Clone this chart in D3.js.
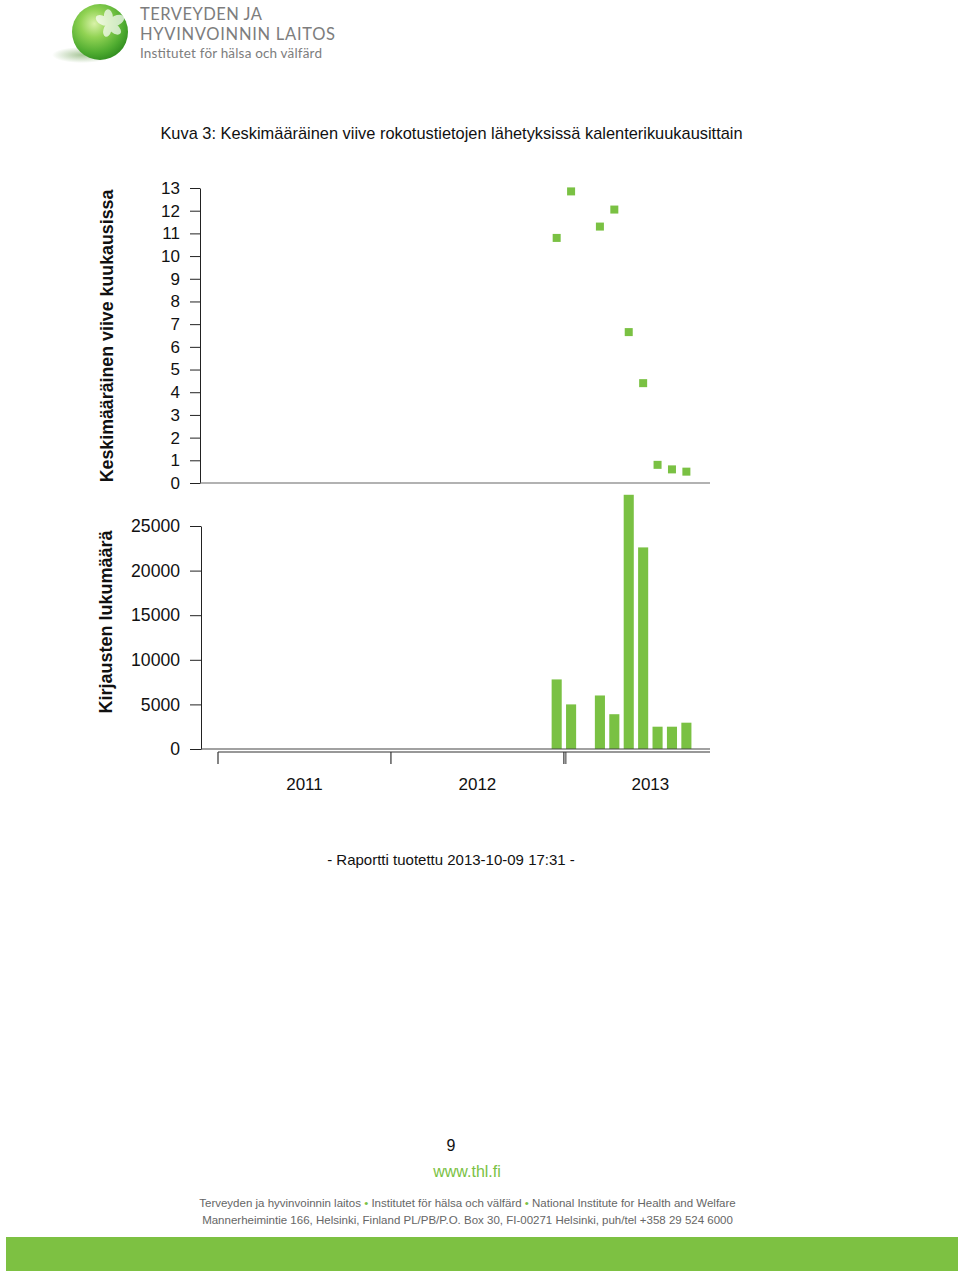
<!DOCTYPE html>
<html><head><meta charset="utf-8">
<script src="https://cdn.jsdelivr.net/npm/d3@7"></script>
<style>
body{margin:0;background:#fff}
svg{display:block}
text{font-family:"Liberation Sans",Arial,Helvetica,sans-serif}
</style>
</head><body>
<svg id="c" width="960" height="1272"></svg>
<script>
// ---- data ----
const dataMonths = ["2012-12","2013-01","2013-03","2013-04","2013-05","2013-06","2013-07","2013-08","2013-09"];
const delayValues = [10.8, 12.85, 11.3, 12.05, 6.65, 4.4, 0.8, 0.6, 0.5];
const countValues = [7800, 5000, 6000, 3900, 28500, 22600, 2500, 2500, 2950];
const delayTicks = [0,1,2,3,4,5,6,7,8,9,10,11,12,13];
const countTicks = [0,5000,10000,15000,20000,25000];
const yearLabels = ["2011","2012","2013"];
const firstMonth = "2011-01", lastMonth = "2013-10";

const green = "#7ac143";
const svg = d3.select("#c");
const fmt = d3.timeFormat("%Y-%m"), parse = d3.timeParse("%Y-%m");
const monthDomain = d3.timeMonth.range(parse(firstMonth), d3.timeMonth.offset(parse(lastMonth),1)).map(fmt);

const x = d3.scaleBand().domain(monthDomain).range([218, 708]).paddingInner(0.3).paddingOuter(0.15);
const yTop = d3.scaleLinear().domain([0,13]).range([483,188]);
const yBot = d3.scaleLinear().domain([0,25000]).range([749,526]);

// ---- logo ----
const defs = svg.append("defs");
const rg = defs.append("radialGradient").attr("id","sph").attr("cx","40%").attr("cy","35%").attr("r","70%");
rg.append("stop").attr("offset","0%").attr("stop-color","#d9f2a8");
rg.append("stop").attr("offset","35%").attr("stop-color","#92d354");
rg.append("stop").attr("offset","75%").attr("stop-color","#4fac30");
rg.append("stop").attr("offset","100%").attr("stop-color","#2e8a1e");
const sg = defs.append("radialGradient").attr("id","shd");
sg.append("stop").attr("offset","0%").attr("stop-color","#a9c79a");
sg.append("stop").attr("offset","100%").attr("stop-color","#ffffff");
svg.append("ellipse").attr("cx",82).attr("cy",55).attr("rx",30).attr("ry",8).attr("fill","url(#shd)");
svg.append("circle").attr("cx",100).attr("cy",32).attr("r",28).attr("fill","url(#sph)");
const leaf = svg.append("g").attr("fill","#ffffff").attr("opacity",0.7);
[[-150,9],[-95,9],[-25,10],[40,9],[105,8]].forEach(([a,l])=>{
  const cx0 = 109, cy0 = 24;
  const r = a*Math.PI/180;
  const cx = cx0 + Math.cos(r)*l*0.8, cy = cy0 + Math.sin(r)*l*0.8;
  leaf.append("ellipse").attr("cx",cx).attr("cy",cy).attr("rx",l*0.85).attr("ry",l*0.5)
    .attr("transform",`rotate(${a},${cx},${cy})`);
});
const logoFont = "Lato,'Open Sans',sans-serif";
const lt = svg.append("g").attr("fill","#7d7d7d");
lt.append("text").attr("x",140).attr("y",20).attr("font-size",16.5).attr("textLength",122).attr("lengthAdjust","spacing").style("font-family",logoFont).text("TERVEYDEN JA");
lt.append("text").attr("x",140).attr("y",40).attr("font-size",16.5).attr("textLength",195).attr("lengthAdjust","spacing").style("font-family",logoFont).text("HYVINVOINNIN LAITOS");
lt.append("text").attr("x",140).attr("y",58).attr("font-size",13.5).attr("textLength",182).attr("lengthAdjust","spacing").style("font-family",logoFont).text("Institutet för hälsa och välfärd");

// ---- title ----
svg.append("text").attr("x",451.5).attr("y",139).attr("text-anchor","middle").attr("font-size",16.4)
  .attr("fill","#111").text("Kuva 3: Keskimääräinen viive rokotustietojen lähetyksissä kalenterikuukausittain");

// ---- top chart ----
const gTop = svg.append("g").attr("transform","translate(200,0)");
gTop.call(d3.axisLeft(yTop).tickValues(delayTicks).tickSize(10).tickPadding(10).tickSizeOuter(0));
gTop.selectAll("text").attr("font-size",17).attr("fill","#111").style("font-family","'Liberation Sans',Arial,sans-serif");
gTop.selectAll("line,path").attr("stroke","#222");
svg.append("line").attr("x1",200).attr("x2",710).attr("y1",yTop(0)).attr("y2",yTop(0)).attr("stroke","#666").attr("stroke-width",1.2);
svg.append("g").selectAll("rect").data(dataMonths).join("rect")
  .attr("x",(d)=>x(d)+x.bandwidth()/2-4).attr("y",(d,i)=>yTop(delayValues[i])-4)
  .attr("width",8).attr("height",8).attr("fill",green);
svg.append("text").attr("transform",`translate(113,${(yTop(0)+yTop(13))/2+0.5}) rotate(-90)`)
  .attr("text-anchor","middle").attr("font-size",17.8).attr("font-weight","bold").attr("fill","#111")
  .text("Keskimääräinen viive kuukausissa");

// ---- bottom chart ----
const gBot = svg.append("g").attr("transform","translate(201,0)");
gBot.call(d3.axisLeft(yBot).tickValues(countTicks).tickFormat(d3.format("d")).tickSize(11).tickPadding(10).tickSizeOuter(0));
gBot.selectAll("text").attr("font-size",17.6).attr("fill","#111").style("font-family","'Liberation Sans',Arial,sans-serif");
gBot.selectAll("line,path").attr("stroke","#222");
svg.append("g").selectAll("rect").data(dataMonths).join("rect")
  .attr("x",(d)=>x(d)).attr("y",(d,i)=>yBot(countValues[i]))
  .attr("width",x.bandwidth()).attr("height",(d,i)=>yBot(0)-yBot(countValues[i])).attr("fill",green);
svg.append("line").attr("x1",201).attr("x2",710).attr("y1",yBot(0)).attr("y2",yBot(0)).attr("stroke","#444").attr("stroke-width",1.2);
svg.append("text").attr("transform",`translate(112,622) rotate(-90)`)
  .attr("text-anchor","middle").attr("font-size",18).attr("font-weight","bold").attr("fill","#111")
  .text("Kirjausten lukumäärä");

// year brackets
const step = x.step();
const boundary = (m)=>x(m) - step*0.15;
const yb = 752;
svg.append("line").attr("x1",boundary(yearLabels[0]+"-01")).attr("x2",710).attr("y1",yb).attr("y2",yb).attr("stroke","#333").attr("stroke-width",1.2);
yearLabels.forEach((yr,i)=>{
  const x0 = boundary(yr+"-01");
  svg.append("line").attr("x1",x0).attr("x2",x0).attr("y1",yb).attr("y2",764).attr("stroke","#333").attr("stroke-width",1.2);
  if(i===2){ svg.append("line").attr("x1",x0+2).attr("x2",x0+2).attr("y1",yb).attr("y2",764).attr("stroke","#333").attr("stroke-width",1); }
  svg.append("text").attr("x",x0+6*step).attr("y",790).attr("text-anchor","middle").attr("font-size",17).attr("fill","#111").text(yr);
});

// ---- report note ----
svg.append("text").attr("x",451).attr("y",865).attr("text-anchor","middle").attr("font-size",15).attr("fill","#111")
  .text("- Raportti tuotettu 2013-10-09 17:31 -");

// ---- footer ----
svg.append("text").attr("x",451).attr("y",1151).attr("text-anchor","middle").attr("font-size",16).attr("fill","#111").text("9");
svg.append("text").attr("x",467).attr("y",1177).attr("text-anchor","middle").attr("font-size",16).attr("fill",green).text("www.thl.fi");
const f1 = svg.append("text").attr("x",467.5).attr("y",1207).attr("text-anchor","middle").attr("font-size",11.5).attr("fill","#666");
f1.append("tspan").text("Terveyden ja hyvinvoinnin laitos ");
f1.append("tspan").attr("fill",green).text("•");
f1.append("tspan").text(" Institutet för hälsa och välfärd ");
f1.append("tspan").attr("fill",green).text("•");
f1.append("tspan").text(" National Institute for Health and Welfare");
svg.append("text").attr("x",467.5).attr("y",1224).attr("text-anchor","middle").attr("font-size",11.5).attr("fill","#666")
  .text("Mannerheimintie 166, Helsinki, Finland PL/PB/P.O. Box 30, FI-00271 Helsinki, puh/tel +358 29 524 6000");
svg.append("rect").attr("x",6).attr("y",1237).attr("width",952).attr("height",34).attr("fill","#7dc142");
</script>
</body></html>
